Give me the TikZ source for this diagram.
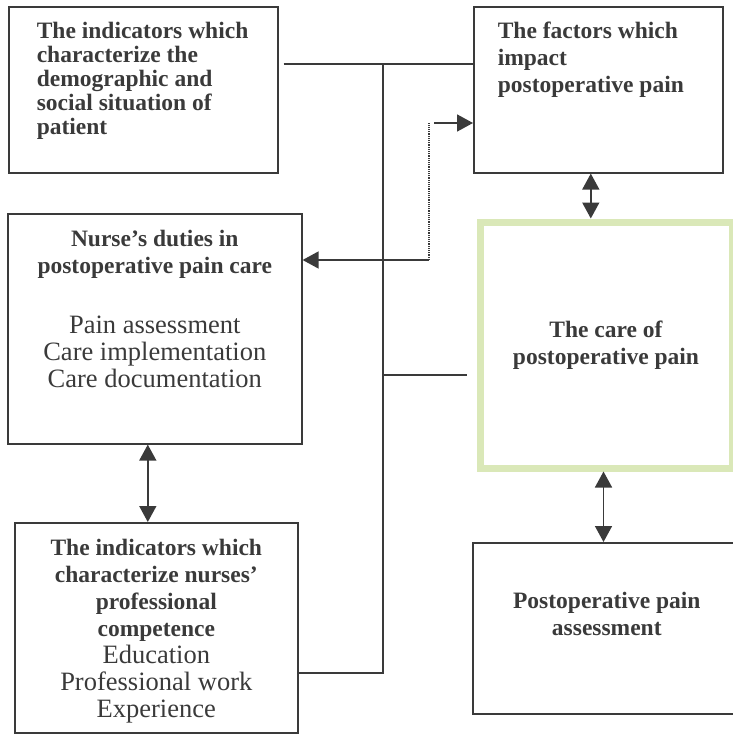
\documentclass[tikz,border=0pt]{standalone}
\usepackage{fontspec}
\setmainfont{Liberation Serif}
\usetikzlibrary{arrows.meta}
\usetikzlibrary{positioning}
\usepackage{xcolor}

\definecolor{inkgray}{RGB}{58,58,58}
\definecolor{caregreen}{RGB}{218,232,184}

% text block pinned to the top of a box
\newcommand{\toptext}[3]{\parbox[c][#1][t]{#2}{#3}}
\newcommand{\plain}{\fontsize{26.5}{27}\selectfont}

\tikzset{
	box/.style={draw=inkgray, line width=1.6pt, anchor=north west, inner sep=0pt,
		text=inkgray, font=\fontsize{23.5}{27}\selectfont},
	carebox/.style={box, draw=caregreen, line width=7pt},
	link/.style={draw=inkgray, line width=1.6pt},
	arrow/.style={link, -{Triangle[length=16pt,width=17pt]}},
	twoway/.style={link, {Triangle[length=16pt,width=17pt]}-{Triangle[length=16pt,width=17pt]}},
}

\begin{document}
\begin{tikzpicture}[x=1pt, y=-1pt]
	\useasboundingbox (0,0) rectangle (733,736);

	\node[box, minimum width=269pt, minimum height=166pt] (demog) at (8,6)
	{\toptext{136pt}{253pt}{\fontsize{23.5}{24}\selectfont\raggedright\leftskip=20pt\bfseries\strut
		The indicators which\\ characterize the\\ demographic and\\ social situation of\\ patient}};
	\node[box, minimum width=249pt, minimum height=166pt] (factors) at (473,6)
	{\toptext{140pt}{225pt}{\raggedright\leftskip=12pt\bfseries\strut
		The factors which\\ impact\\ postoperative pain}};

	\node[box, minimum width=294pt, minimum height=230pt] (duties) at (7,213)
	{\toptext{202pt}{286pt}{\centering\strut\textbf{Nurse's duties in}\\ \textbf{postoperative pain care}\\[33pt]
		\plain Pain assessment\\ Care implementation\\ Care documentation}};
	\node[box, minimum width=283pt, minimum height=210pt] (nurseInd) at (14,522)
	{\toptext{182pt}{279pt}{\centering\strut\textbf{The indicators which}\\ \textbf{characterize nurses'}\\
		\textbf{professional}\\ \textbf{competence}\\ \plain Education\\ Professional work\\ Experience}};

	\node[carebox, minimum width=252pt, minimum height=246pt, align=center] (care) at (476.5,218.5)
	{\textbf{The care of}\\ \textbf{postoperative pain}};
	\node[box, minimum width=268pt, minimum height=171pt] (assess) at (472,542)
	{\toptext{77pt}{250pt}{\centering\strut\textbf{Postoperative pain}\\ \textbf{assessment}}};

	\coordinate (busTop) at (383,64);
	\coordinate (busMid) at (383,375);
	\coordinate (busBot) at (383,673);
	\coordinate (fork) at (429,260);
	\coordinate (tap) at (429,123);
	\coordinate (upLink) at ([xshift=-7.5pt]factors.south);
	\coordinate (downLink) at ([xshift=-2.5pt]care.south);
	\coordinate (leftLink) at ([xshift=-7pt]duties.south);

	\draw[link] ([xshift=5pt]demog.east |- busTop) -- (factors.west |- busTop);
	\draw[link] (busTop) -- (busBot) -- (nurseInd.east |- busBot);
	\draw[link] (busMid) -- ([xshift=-10pt]care.west |- busMid);
	\draw[link, line width=1.2pt, densely dotted] (fork) -- (tap);
	\draw[arrow] ([xshift=5pt]tap) -- (factors.west |- tap);
	\draw[arrow] (fork) -- (duties.east |- fork);

	\draw[twoway] (upLink) -- (upLink |- care.north);
	\draw[twoway] (downLink) -- (downLink |- assess.north);
	\draw[twoway] (leftLink) -- (leftLink |- nurseInd.north);
\end{tikzpicture}
\end{document}
